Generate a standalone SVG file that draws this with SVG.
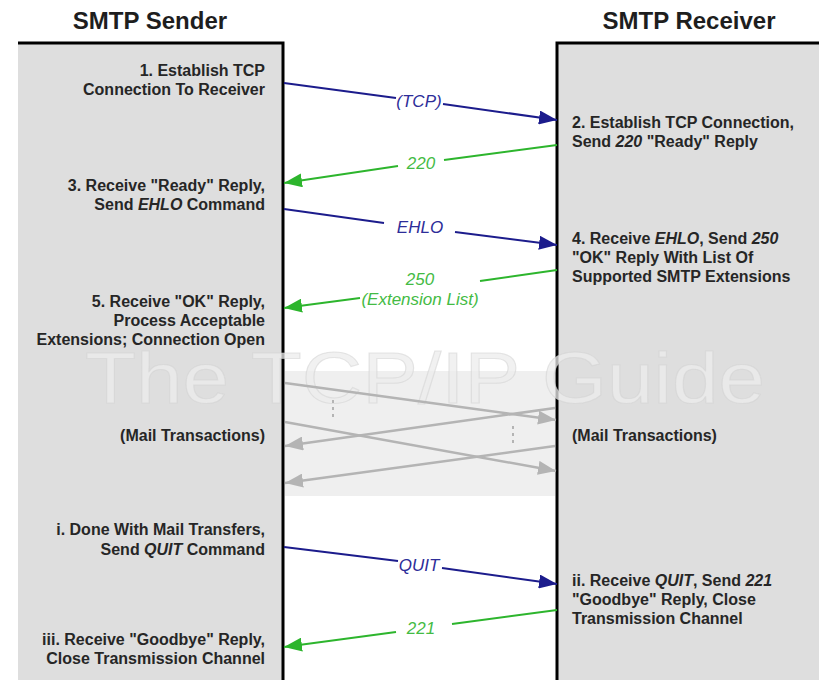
<svg xmlns="http://www.w3.org/2000/svg" width="819" height="680" viewBox="0 0 819 680">
<style>
  .hdr{font-family:"Liberation Sans",Arial,sans-serif;font-weight:bold;font-size:24px;fill:#1e1e1e;text-anchor:middle}
  .t{font-family:"Liberation Sans",Arial,sans-serif;font-weight:bold;font-size:16px;fill:#262626}
  .l{text-anchor:end}
  .i{font-style:italic}
  .lbl{font-family:"Liberation Sans",Arial,sans-serif;font-style:italic;font-size:17px;text-anchor:middle}
  .blue{stroke:#1c1c8c;stroke-width:2;fill:none}
  .green{stroke:#2db52d;stroke-width:2;fill:none}
  .gray{stroke:#b4b4b4;stroke-width:2.5;fill:none}
  .box{fill:#dedede}
  .edge{stroke:#000;stroke-width:3;fill:none}
</style>
<defs>
  <marker id="ab" markerUnits="userSpaceOnUse" markerWidth="18" markerHeight="14" refX="18" refY="7" orient="auto">
    <path d="M0,0 L18,7 L0,14 z" fill="#1c1c8c"/>
  </marker>
  <marker id="ag" markerUnits="userSpaceOnUse" markerWidth="18" markerHeight="14" refX="18" refY="7" orient="auto">
    <path d="M0,0 L18,7 L0,14 z" fill="#2db52d"/>
  </marker>
  <marker id="ay" markerUnits="userSpaceOnUse" markerWidth="18" markerHeight="14" refX="18" refY="7" orient="auto">
    <path d="M0,0 L18,7 L0,14 z" fill="#b4b4b4"/>
  </marker>
</defs>
<rect width="819" height="680" fill="#fff"/>

<g id="sender">
  <rect class="box" x="18" y="43" width="265" height="640"/>
  <path class="edge" d="M18,43 H283 V680"/>
  <text class="hdr" x="150" y="29">SMTP Sender</text>
</g>
<g id="receiver">
  <rect class="box" x="557" y="43" width="262" height="640"/>
  <path class="edge" d="M819,43 H557 V680"/>
  <text class="hdr" x="689" y="29">SMTP Receiver</text>
</g>
<g id="mail-band">
  <rect x="285" y="371" width="270" height="125" fill="#efefef"/>
</g>
<g id="watermark">
  <text x="85" y="403" textLength="680" lengthAdjust="spacingAndGlyphs" font-family="'Liberation Sans',Arial,sans-serif" font-size="73" fill="#ececec" fill-opacity="0.75" stroke="#cfcfcf" stroke-opacity="0.5" stroke-width="1">The TCP/IP Guide</text>
</g>

<g id="connectors">
  <!-- TCP -->
  <path class="blue" d="M284,83 L396,98"/>
  <path class="blue" d="M443,104 L557,120" marker-end="url(#ab)"/>
  <text class="lbl" x="419" y="107" fill="#2d2d99">(TCP)</text>
  <!-- 220 -->
  <path class="green" d="M557,145 L444,160"/>
  <path class="green" d="M398,166 L284,183" marker-end="url(#ag)"/>
  <text class="lbl" x="421" y="169" fill="#44bb44">220</text>
  <!-- EHLO -->
  <path class="blue" d="M284,209 L384,223"/>
  <path class="blue" d="M455,232 L557,245" marker-end="url(#ab)"/>
  <text class="lbl" x="420" y="233" fill="#2d2d99">EHLO</text>
  <!-- 250 -->
  <path class="green" d="M557,270 L480,281"/>
  <path class="green" d="M360,298 L284,308" marker-end="url(#ag)"/>
  <text class="lbl" x="420" y="285" fill="#44bb44">250</text>
  <text class="lbl" x="420" y="305" fill="#44bb44">(Extension List)</text>
  <!-- mail transactions -->
  <path class="gray" d="M285,383 L556,420" marker-end="url(#ay)"/>
  <path class="gray" d="M285,422 L556,471" marker-end="url(#ay)"/>
  <path class="gray" d="M555,408 L285,446" marker-end="url(#ay)"/>
  <path class="gray" d="M555,446 L285,483" marker-end="url(#ay)"/>
  <path d="M333,400 V421" stroke="#b4b4b4" stroke-width="2" stroke-dasharray="3,4"/>
  <path d="M513,426 V446" stroke="#b4b4b4" stroke-width="2" stroke-dasharray="3,4"/>
  <!-- QUIT -->
  <path class="blue" d="M284,547 L398,561"/>
  <path class="blue" d="M442,568 L557,584" marker-end="url(#ab)"/>
  <text class="lbl" x="419" y="571" fill="#2d2d99">QUIT</text>
  <!-- 221 -->
  <path class="green" d="M557,610 L452,624"/>
  <path class="green" d="M396,632 L284,647" marker-end="url(#ag)"/>
  <text class="lbl" x="421" y="634" fill="#44bb44">221</text>
</g>

<g id="step1">
  <text class="t l" x="265" y="76">1. Establish TCP</text>
  <text class="t l" x="265" y="95">Connection To Receiver</text>
</g>
<g id="step2">
  <text class="t" x="572" y="128">2. Establish TCP Connection,</text>
  <text class="t" x="572" y="147">Send <tspan class="i">220</tspan> "Ready" Reply</text>
</g>
<g id="step3">
  <text class="t l" x="265" y="191">3. Receive "Ready" Reply,</text>
  <text class="t l" x="265" y="210">Send <tspan class="i">EHLO</tspan> Command</text>
</g>
<g id="step4">
  <text class="t" x="572" y="244">4. Receive <tspan class="i">EHLO</tspan>, Send <tspan class="i">250</tspan></text>
  <text class="t" x="572" y="263">"OK" Reply With List Of</text>
  <text class="t" x="572" y="282">Supported SMTP Extensions</text>
</g>
<g id="step5">
  <text class="t l" x="265" y="307">5. Receive "OK" Reply,</text>
  <text class="t l" x="265" y="326">Process Acceptable</text>
  <text class="t l" x="265" y="345">Extensions; Connection Open</text>
</g>
<g id="mail-sender">
  <text class="t l" x="265" y="441">(Mail Transactions)</text>
</g>
<g id="mail-receiver">
  <text class="t" x="572" y="441">(Mail Transactions)</text>
</g>
<g id="step-i">
  <text class="t l" x="265" y="535">i. Done With Mail Transfers,</text>
  <text class="t l" x="265" y="555">Send <tspan class="i">QUIT</tspan> Command</text>
</g>
<g id="step-ii">
  <text class="t" x="572" y="586">ii. Receive <tspan class="i">QUIT</tspan>, Send <tspan class="i">221</tspan></text>
  <text class="t" x="572" y="605">"Goodbye" Reply, Close</text>
  <text class="t" x="572" y="624">Transmission Channel</text>
</g>
<g id="step-iii">
  <text class="t l" x="265" y="645">iii. Receive "Goodbye" Reply,</text>
  <text class="t l" x="265" y="664">Close Transmission Channel</text>
</g>
</svg>
